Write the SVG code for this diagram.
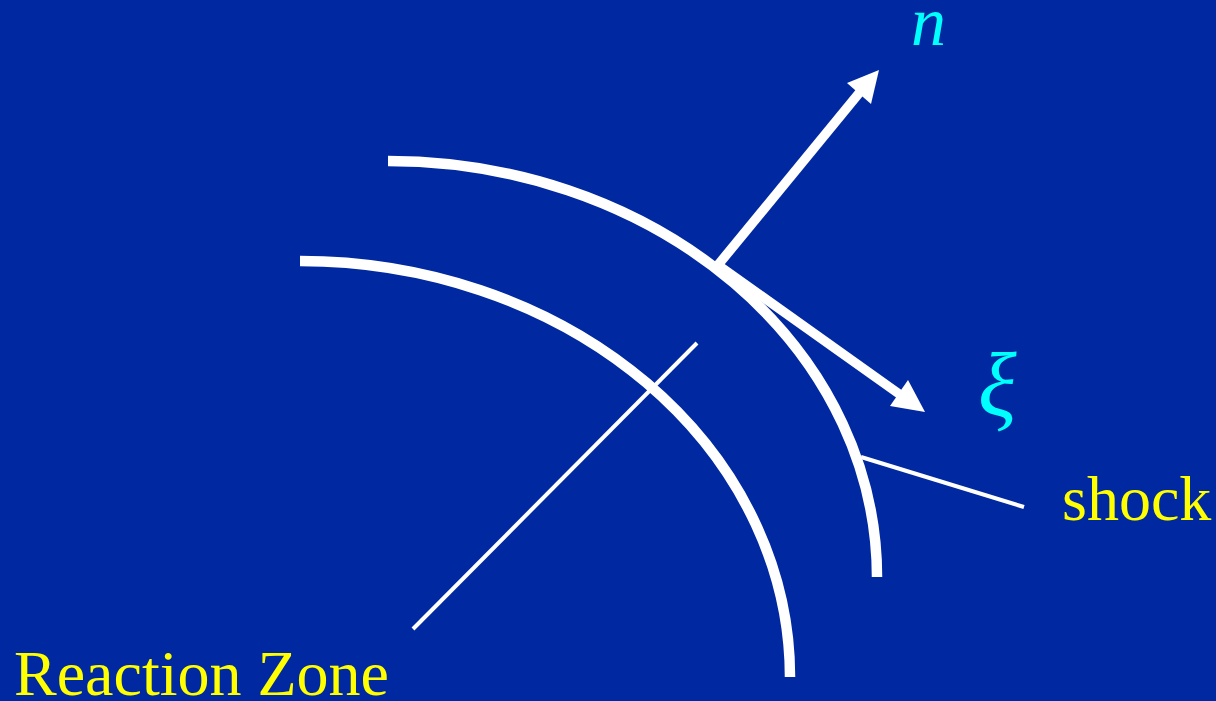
<svg xmlns="http://www.w3.org/2000/svg" width="1216" height="701" viewBox="0 0 1216 701">
<style>
.curve{fill:none;stroke:#fff;stroke-width:10.5}
.lead{fill:none;stroke:#fff;stroke-width:4}
.shaft{fill:none;stroke:#fff;stroke-width:9.5}
.head{fill:#fff;stroke:none}
.sym{font-family:"Liberation Serif","DejaVu Serif",serif;font-style:italic;fill:#00FFFF}
.lab{font-family:"Liberation Serif","DejaVu Serif",serif;fill:#FFFF00;font-size:64px}
</style>
<rect x="0" y="0" width="1216" height="701" fill="#0028A0"/>
<g id="shock">
<path class="curve" d="M388,161 A489,416 0 0 1 877,577"/>
</g>
<g id="reaction-zone">
<path class="curve" d="M300,261 A490,416 0 0 1 790,677"/>
</g>
<g id="connectors">
<line class="lead" x1="413" y1="629" x2="697" y2="343"/>
<line class="lead" x1="861" y1="457" x2="1024" y2="507"/>
<line class="shaft" x1="718" y1="265" x2="860" y2="92"/>
<polygon class="head" points="879,70 871,104 847,83"/>
<line class="shaft" x1="718" y1="265" x2="902" y2="396"/>
<polygon class="head" points="925,412 890,406 908,380"/>
</g>
<g id="labels">
<text class="sym" x="911" y="45" font-size="70">n</text>
<text class="sym" x="978" y="416" font-size="90">ξ</text>
<text class="lab" x="1062" y="520">shock</text>
<text class="lab" x="14" y="695">Reaction Zone</text>
</g>
</svg>
